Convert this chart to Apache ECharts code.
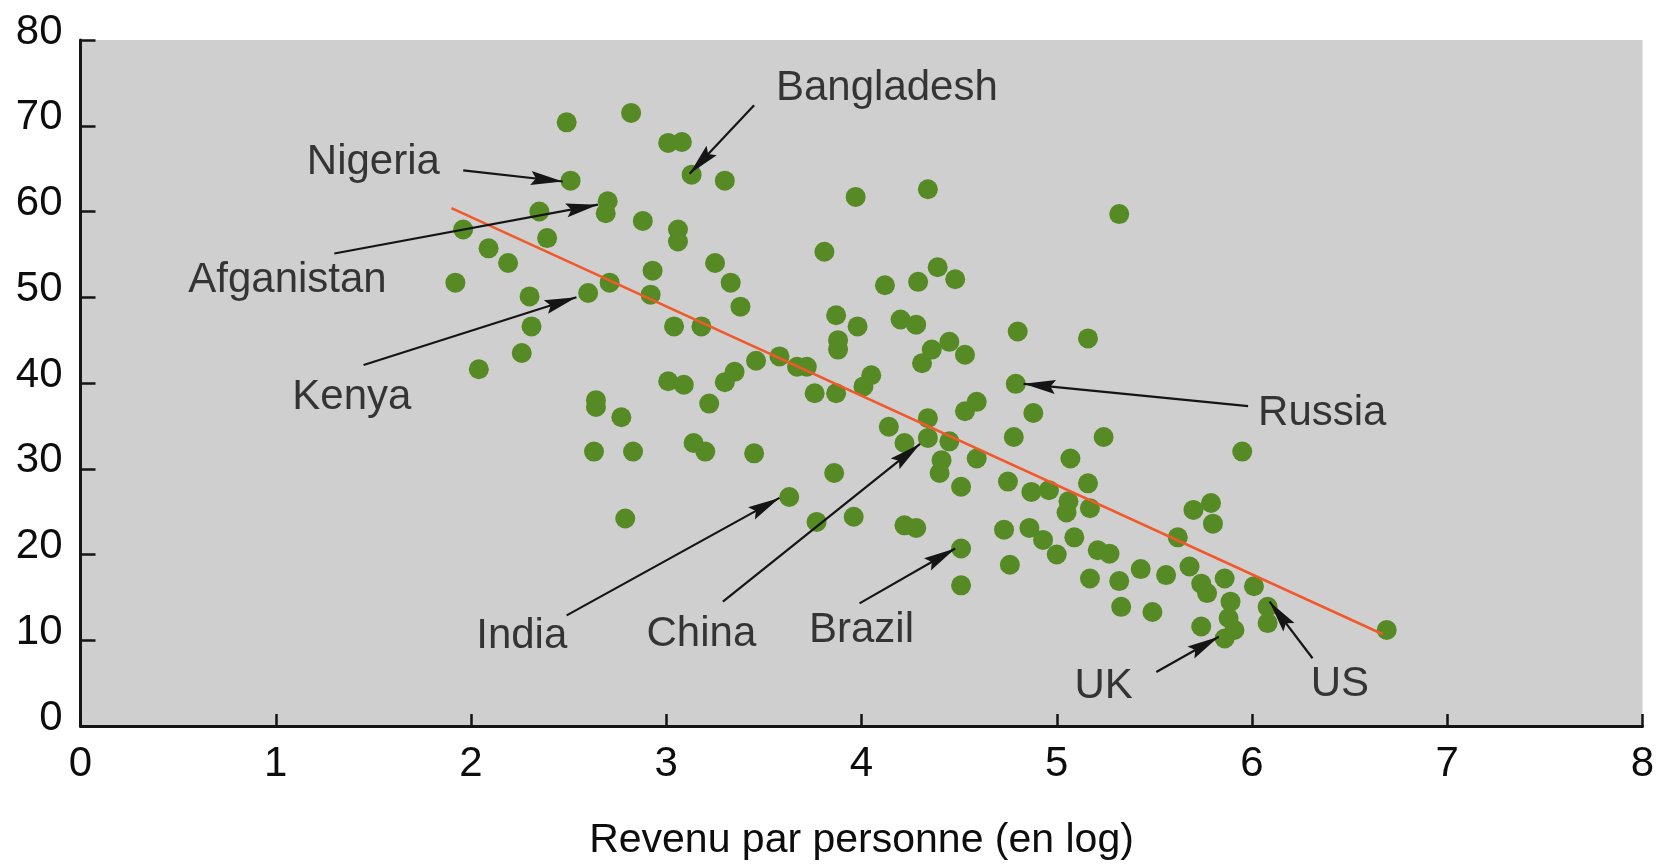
<!DOCTYPE html>
<html>
<head>
<meta charset="utf-8">
<script src="https://cdn.jsdelivr.net/npm/echarts@6/dist/echarts.min.js"></script>
<style>
  html, body { margin: 0; padding: 0; background: #fff; }
  #chart { width: 1663px; height: 866px; }
</style>
</head>
<body>
<div id="chart"></div>
<script>
// ======================
// DATA
// ======================

// income per person (log) for each country dot
const incomeLog = [
  1.96, 2.09, 2.19, 1.92, 2.35, 2.39, 2.30, 2.31, 2.26, 2.04,
  2.49, 2.82, 3.01, 3.08, 2.51, 3.13, 3.30, 3.97, 4.34, 2.70, 2.69,
  2.88, 3.06, 3.06, 3.81, 3.25, 2.93, 3.33, 2.71, 2.60, 2.92, 3.38, 3.04, 3.18,
  3.46, 3.58, 3.67, 3.72, 3.76, 3.87, 3.01, 3.09, 3.30, 3.35, 3.22, 2.64, 2.64, 2.77,
  2.63, 2.83, 3.14, 3.20, 3.45,
  3.87, 3.98, 3.88, 3.88, 4.05, 4.01,
  5.32, 4.12, 4.29, 4.39, 4.48, 4.20, 4.28, 4.80, 5.16, 4.45, 4.36, 4.53, 4.31, 4.79,
  4.53, 4.59, 4.88, 4.34, 4.14, 4.22, 4.34, 4.45, 4.78, 5.24,
  4.41, 4.40, 4.51, 4.59, 4.75, 4.87, 4.96, 5.07, 5.16, 5.06, 5.05, 5.17,
  4.73, 4.86, 4.93, 5.00, 5.09, 5.21, 5.27, 4.76, 5.17, 5.32, 5.33,
  3.86, 3.96, 4.22, 4.28, 4.51, 4.51, 3.63, 2.79, 3.77,
  5.95, 5.79, 5.70, 5.80, 5.62, 5.43, 5.56, 5.68, 5.49, 5.74, 5.86, 5.89, 5.77,
  5.88, 5.91, 5.86, 5.74, 6.01, 6.08, 6.08, 6.69
];

// vertical value for each dot (same order)
const yValues = [
  57.9, 55.7, 54.0, 51.7, 60.0, 56.9, 50.1, 46.6, 43.5, 41.6,
  70.4, 71.5, 68.0, 68.1, 63.6, 64.3, 63.6, 61.7, 62.6, 61.2, 59.8,
  58.9, 57.9, 56.5, 55.3, 54.0, 53.1, 51.7, 51.7, 50.5, 50.3, 48.9, 46.6, 46.6,
  42.6, 43.1, 41.9, 41.9, 38.8, 38.8, 40.2, 39.8, 40.1, 41.3, 37.6, 38.0, 37.2, 36.0,
  32.0, 32.0, 33.0, 32.0, 31.8,
  47.9, 46.6, 45.0, 43.9, 40.9, 39.6,
  59.7, 51.4, 51.8, 53.5, 52.1, 47.4, 46.8, 46.0, 45.2, 44.8, 43.9, 43.3, 42.3, 39.9,
  36.7, 37.8, 36.5, 35.9, 34.9, 33.0, 33.6, 33.2, 33.7, 33.7,
  31.0, 29.5, 27.9, 31.2, 28.5, 27.3, 27.5, 31.2, 28.3, 26.2, 24.9, 25.4,
  22.9, 23.1, 21.7, 20.0, 22.0, 20.5, 20.1, 18.8, 17.2, 16.9, 13.9,
  29.5, 24.4, 23.4, 23.1, 20.7, 16.4, 26.7, 24.2, 23.8,
  32.0, 26.0, 25.2, 23.6, 22.0, 18.3, 17.6, 18.6, 13.3, 16.6, 17.2, 14.5, 15.5,
  12.6, 11.2, 10.2, 11.6, 16.3, 13.9, 12.0, 11.2
];

// trend line end points
const fitX = [1.90, 6.67];
const fitY = [60.4, 10.7];

// country annotations: label centre and arrow (from label side to dot)
const labelNames = ['Bangladesh', 'Nigeria', 'Afganistan', 'Kenya', 'Russia', 'India', 'China', 'Brazil', 'UK', 'US'];
const labelX = [4.13, 1.50, 1.06, 1.39, 6.36, 2.26, 3.18, 4.00, 5.24, 6.45];
const labelY = [74.4, 65.7, 52.0, 38.3, 36.5, 10.4, 10.7, 11.1, 4.6, 4.9];
const arrowFromX = [3.45, 1.96, 1.30, 1.45, 5.98, 2.49, 3.29, 3.99, 5.51, 6.31];
const arrowFromY = [72.4, 64.8, 55.1, 42.1, 37.3, 12.9, 14.5, 14.3, 6.3, 7.9];
const arrowToX = [3.12, 2.47, 2.65, 2.54, 4.83, 3.58, 4.30, 4.48, 5.83, 6.09];
const arrowToY = [64.4, 63.5, 60.8, 50.0, 39.9, 26.6, 32.9, 20.7, 10.4, 14.5];

// ======================
// CHART
// ======================

const FONT = '"Liberation Sans", Arial, Helvetica, sans-serif';
const TEXT_COLOR = '#0d0d0d';
const HEAD_W = 14;
const HEAD_H = 32;
// narrow arrow head pointing up
const ARROW_HEAD = 'path://M7,0 L14,32 L7,27 L0,32 Z';

const chart = echarts.init(document.getElementById('chart'), null, { renderer: 'canvas' });

const option = {
  animation: false,
  backgroundColor: '#ffffff',
  grid: {
    left: 80.5,
    right: 20.5,
    top: 40,
    bottom: 140,
    show: true,
    backgroundColor: '#cfcfcf',
    borderWidth: 0
  },
  xAxis: {
    type: 'value',
    min: 0,
    max: 8,
    interval: 1,
    name: 'Revenu par personne (en log)',
    nameLocation: 'middle',
    nameGap: 94,
    nameTextStyle: { fontFamily: FONT, fontSize: 41, color: TEXT_COLOR },
    axisLine: { show: true, onZero: false, lineStyle: { color: '#151515', width: 3 } },
    axisTick: { show: true, inside: true, length: 12, lineStyle: { color: '#151515', width: 2.5 } },
    axisLabel: { fontFamily: FONT, fontSize: 42, color: TEXT_COLOR, margin: 17 },
    splitLine: { show: false }
  },
  yAxis: {
    type: 'value',
    min: 0,
    max: 80,
    interval: 10,
    axisLine: { show: true, onZero: false, lineStyle: { color: '#151515', width: 3 } },
    axisTick: { show: true, inside: true, length: 15, lineStyle: { color: '#151515', width: 2.5 } },
    axisLabel: {
      fontFamily: FONT, fontSize: 42, color: TEXT_COLOR, margin: 18,
      verticalAlign: 'bottom',
      lineHeight: 16
    },
    splitLine: { show: false }
  },
  series: [
    {
      name: 'pays',
      type: 'scatter',
      symbol: 'circle',
      symbolSize: 20,
      itemStyle: { color: '#568a25', opacity: 1 },
      data: incomeLog.map((x, i) => [x, yValues[i]]),
      z: 2
    },
    {
      name: 'tendance',
      type: 'line',
      showSymbol: false,
      symbol: 'none',
      lineStyle: { color: '#f2592a', width: 2.5 },
      data: fitX.map((x, i) => [x, fitY[i]]),
      z: 3
    },
    {
      name: 'fleches',
      type: 'scatter',
      data: [],
      markLine: {
        silent: true,
        symbol: ['none', 'none'],
        lineStyle: { color: '#151515', width: 2.2, type: 'solid', opacity: 1 },
        label: { show: false },
        data: arrowFromX.map((x, i) => [
          { coord: [x, arrowFromY[i]] },
          { coord: [arrowToX[i], arrowToY[i]] }
        ])
      },
      z: 4
    },
    {
      id: 'pointes',
      name: 'pointes',
      type: 'scatter',
      symbol: ARROW_HEAD,
      symbolSize: [HEAD_W, HEAD_H],
      itemStyle: { color: '#151515', opacity: 1 },
      data: [],
      z: 4
    },
    {
      name: 'etiquettes',
      type: 'scatter',
      symbolSize: 1,
      itemStyle: { color: 'rgba(0,0,0,0)' },
      label: {
        show: true,
        position: 'inside',
        formatter: '{b}',
        fontFamily: FONT,
        fontSize: 42,
        color: TEXT_COLOR
      },
      data: labelNames.map((name, i) => ({ name: name, value: [labelX[i], labelY[i]] })),
      z: 5
    }
  ]
};

try {
  chart.setOption(option);

  // arrow heads: place each head so its tip sits on the arrow end, rotated along the line
  const heads = arrowToX.map((x, i) => {
    const p1 = chart.convertToPixel({ gridIndex: 0 }, [arrowFromX[i], arrowFromY[i]]);
    const p2 = chart.convertToPixel({ gridIndex: 0 }, [x, arrowToY[i]]);
    const dx = p2[0] - p1[0];
    const dy = p2[1] - p1[1];
    const len = Math.sqrt(dx * dx + dy * dy);
    const cx = p2[0] - dx / len * HEAD_H / 2;
    const cy = p2[1] - dy / len * HEAD_H / 2;
    const angle = Math.atan2(-dy, dx) * 180 / Math.PI;
    return {
      value: chart.convertFromPixel({ gridIndex: 0 }, [cx, cy]),
      symbolRotate: angle - 90
    };
  });
  chart.setOption({ series: [{ id: 'pointes', data: heads }] });
} catch (error) {
  console.error('[scatter] setOption error:', error);
}
</script>
</body>
</html>
